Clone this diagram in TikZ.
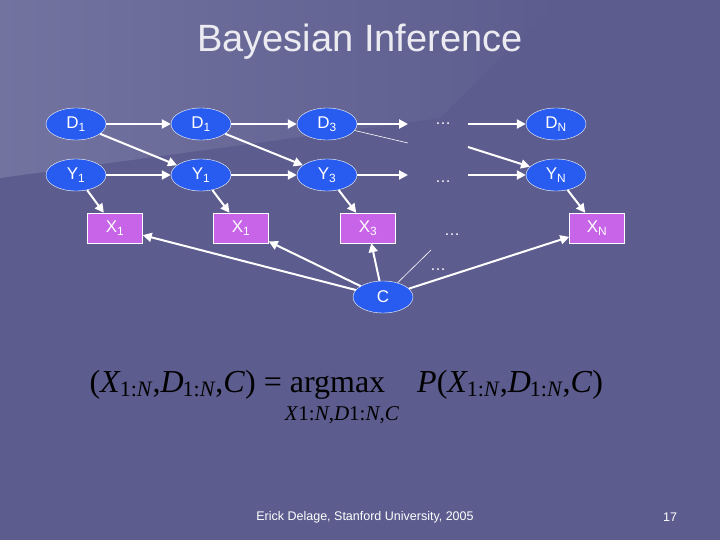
\documentclass[tikz,border=0pt]{standalone}
\usepackage{fontspec}
\setmainfont{Liberation Sans}
\newfontfamily\frm{Liberation Serif}
\usetikzlibrary{arrows.meta,shapes.geometric}
\definecolor{bg}{RGB}{92,92,142}
\definecolor{bgl}{RGB}{115,115,160}
\definecolor{nb}{RGB}{40,92,240}
\definecolor{nv}{RGB}{200,100,232}
\newcommand{\bsz}{\fontsize{32}{32}\selectfont}
\newcommand{\ssz}{\fontsize{22}{22}\selectfont}
\begin{document}
\begin{tikzpicture}[x=1pt,y=-1pt,
  ell/.style={ellipse,draw=white,fill=nb,minimum width=60pt,minimum height=32pt,inner sep=0pt,text=white,font=\fontsize{17}{17}\selectfont},
  box/.style={rectangle,draw=white,fill=nv,minimum width=55pt,minimum height=30pt,inner sep=0pt,text=white,font=\fontsize{17}{17}\selectfont},
  dots/.style={text=white,font=\fontsize{16}{16}\selectfont},
  arr/.style={draw=white,line width=2pt,-{Triangle[length=9pt,width=9pt]}},
  thin/.style={draw=white,line width=0.6pt}]
\useasboundingbox (0,0) rectangle (720,540);
\fill[bg] (0,0) rectangle (720,540);
\shade[left color=bgl,right color=bg] (0,0) -- (560,0) -- (440,118) -- (0,178) -- cycle;
\node[text=white!88!bg,font=\fontsize{38}{38}\selectfont] (title) at (360,42) {Bayesian Inference};
\node[ell] (d1) at (76,124) {D\textsubscript{1}};
\node[ell] (d2) at (201,124) {D\textsubscript{1}};
\node[ell] (d3) at (327,124) {D\textsubscript{3}};
\node[dots] (dd) at (443,124) {\dots};
\node[ell] (dn) at (556,124) {D\textsubscript{N}};
\node[ell] (y1) at (76,175) {Y\textsubscript{1}};
\node[ell] (y2) at (201,175) {Y\textsubscript{1}};
\node[ell] (y3) at (327,175) {Y\textsubscript{3}};
\node[dots] (yd) at (443,182) {\dots};
\node[ell] (yn) at (556,175) {Y\textsubscript{N}};
\node[box] (x1) at (115,228) {X\textsubscript{1}};
\node[box] (x2) at (241,228) {X\textsubscript{1}};
\node[box] (x3) at (368,228) {X\textsubscript{3}};
\node[dots] (xd) at (452,235) {\dots};
\node[box] (xn) at (597,228) {X\textsubscript{N}};
\node[dots] (cd) at (438,270) {\dots};
\node[ell] (c) at (383,297) {C};
\coordinate (dl) at (408,124); \coordinate (dr) at (468,124);
\coordinate (yl) at (408,175); \coordinate (yr) at (468,175);
\coordinate (ml) at (408,143); \coordinate (mr) at (468,147);
\coordinate (ct) at (431,250);
\draw[arr] (d1) -- (d2); \draw[arr] (d2) -- (d3); \draw[arr] (d3) -- (dl); \draw[arr] (dr) -- (dn);
\draw[arr] (y1) -- (y2); \draw[arr] (y2) -- (y3); \draw[arr] (y3) -- (yl); \draw[arr] (yr) -- (yn);
\draw[arr] (d1) -- (y2); \draw[arr] (d2) -- (y3); \draw[thin] (d3) -- (ml); \draw[arr] (mr) -- (yn);
\draw[arr] (y1) -- (x1); \draw[arr] (y2) -- (x2); \draw[arr] (y3) -- (x3); \draw[arr] (yn) -- (xn);
\draw[arr] (c) -- (x1); \draw[arr] (c) -- (x2); \draw[arr] (c) -- (x3); \draw[arr] (c) -- (xn);
\draw[thin] (c) -- (ct);
\node[font=\frm\bsz,anchor=west] (f) at (86,385) {(\textit{X}\kern-1pt\raisebox{-4pt}{\ssz 1:\textit{N}},\textit{D}\kern-1pt\raisebox{-4pt}{\ssz 1:\textit{N}},\textit{C}) = argmax\quad\textit{P}(\textit{X}\kern-1pt\raisebox{-4pt}{\ssz 1:\textit{N}},\textit{D}\kern-1pt\raisebox{-4pt}{\ssz 1:\textit{N}},\textit{C})};
\node[font=\frm\fontsize{21}{21}\selectfont] (fs) at (342,415) {\textit{X}1:\textit{N},\textit{D}1:\textit{N},\textit{C}};
\node[text=white,font=\fontsize{12.5}{12.5}\selectfont] (ft) at (365,517) {Erick Delage, Stanford University, 2005};
\node[text=white,font=\fontsize{12.5}{12.5}\selectfont] (pg) at (670,517) {17};
\end{tikzpicture}
\end{document}
